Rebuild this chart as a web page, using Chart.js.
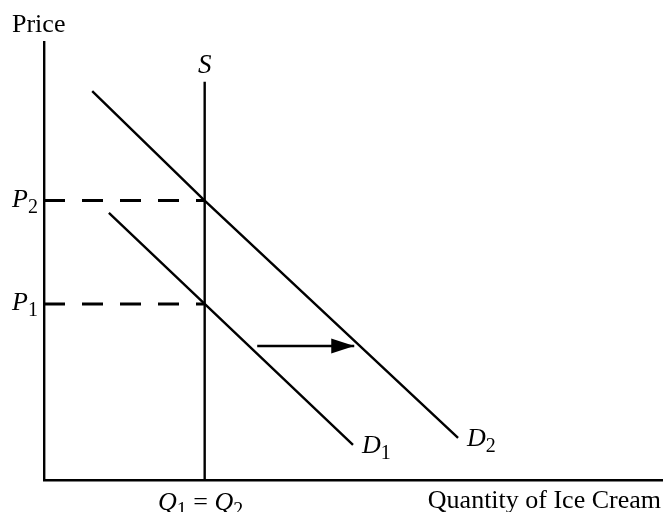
<!DOCTYPE html>
<html>
<head>
<meta charset="utf-8">
<script src="https://cdn.jsdelivr.net/npm/chart.js@4/dist/chart.umd.min.js"></script>
<style>
  html, body { margin: 0; padding: 0; background: #fff; }
</style>
</head>
<body>
<canvas id="chart" width="665" height="512"></canvas>
<script>
// Data (quantity 0-10 on x, price 0-10 on y)
const xTitle = 'Quantity of Ice Cream';
const yTitle = 'Price';
const supplyLabel = 'S';
const priceLabels = ['P1', 'P2'];
const quantityLabel = 'Q1 = Q2';
const demandLabels = ['D1', 'D2'];

const quantityEq = 2.6;          // Q1 = Q2, supply is vertical here
const supplyTop = 9.09;
const priceLevels = [4.02, 6.38]; // P1, P2
const demand1 = [{ x: 1.05, y: 6.10 }, { x: 2.6, y: 4.02 }, { x: 5.0, y: 0.80 }];
const demand2 = [{ x: 0.78, y: 8.88 }, { x: 2.6, y: 6.38 }, { x: 6.70, y: 0.96 }];
const shiftArrow = [{ x: 3.45, y: 3.06 }, { x: 5.02, y: 3.06 }];

const serif = '"Liberation Serif", "Times New Roman", serif';

function lineSet(data, dashed) {
    return {
        data: data,
        showLine: true,
        borderColor: '#000',
        borderWidth: dashed ? 3 : 2.4,
        borderDash: dashed ? [21, 17] : [],
        pointRadius: 0,
        fill: false,
        clip: false
    };
}

// split "P1" style labels into italic letters and subscript digits
function splitLabel(text) {
    const parts = [];
    for (const ch of text) {
        let kind = 'plain';
        if (/[0-9]/.test(ch)) kind = 'sub';
        else if (/[A-Za-z]/.test(ch)) kind = 'ital';
        const last = parts[parts.length - 1];
        if (last && last.kind === kind) last.text += ch;
        else parts.push({ kind: kind, text: ch });
    }
    return parts;
}

function drawLabel(ctx, text, x, y, align, size) {
    const parts = splitLabel(text);
    const subSize = Math.round(size * 0.75);
    let total = 0;
    parts.forEach(p => {
        if (p.kind === 'sub') p.font = subSize + 'px ' + serif;
        else if (p.kind === 'ital') p.font = 'italic ' + size + 'px ' + serif;
        else p.font = size + 'px ' + serif;
        ctx.font = p.font;
        p.w = ctx.measureText(p.text).width;
        total += p.w;
    });
    let cx = x;
    if (align === 'center') cx = x - total / 2;
    if (align === 'right') cx = x - total;
    ctx.textAlign = 'left';
    ctx.textBaseline = 'alphabetic';
    parts.forEach(p => {
        ctx.font = p.font;
        ctx.fillText(p.text, cx, p.kind === 'sub' ? y + 6 : y);
        cx += p.w;
    });
}

const annotations = {
    id: 'annotations',
    afterDatasetsDraw(chart) {
        const ctx = chart.ctx;
        const xs = chart.scales.x;
        const ys = chart.scales.y;
        const area = chart.chartArea;
        ctx.save();
        ctx.fillStyle = '#000';

        // arrow head at the end of the shift arrow
        const tip = shiftArrow[shiftArrow.length - 1];
        const tx = xs.getPixelForValue(tip.x);
        const ty = ys.getPixelForValue(tip.y);
        ctx.beginPath();
        ctx.moveTo(tx, ty);
        ctx.lineTo(tx - 23, ty - 7.5);
        ctx.lineTo(tx - 23, ty + 7.5);
        ctx.closePath();
        ctx.fill();

        // axis titles
        ctx.font = '26px ' + serif;
        ctx.textAlign = 'left';
        ctx.textBaseline = 'alphabetic';
        ctx.fillText(yTitle, area.left - 32, area.top - 10);
        ctx.textAlign = 'right';
        ctx.fillText(xTitle, area.right - 1, area.bottom + 28);

        // supply label
        drawLabel(ctx, supplyLabel, xs.getPixelForValue(quantityEq), ys.getPixelForValue(supplyTop) - 9, 'center', 27);

        // price labels on the y axis
        priceLevels.forEach((p, i) => {
            drawLabel(ctx, priceLabels[i], area.left - 32, ys.getPixelForValue(p) + 6, 'left', 26);
        });

        // quantity label under the x axis
        drawLabel(ctx, quantityLabel, xs.getPixelForValue(quantityEq) - 4, area.bottom + 30, 'center', 26);

        // demand curve labels
        [demand1, demand2].forEach((d, i) => {
            const end = d[d.length - 1];
            drawLabel(ctx, demandLabels[i], xs.getPixelForValue(end.x) + 9, ys.getPixelForValue(end.y) + 8, 'left', 26);
        });
        ctx.restore();
    }
};

const axisOpts = {
    type: 'linear',
    min: 0,
    max: 10,
    grid: { display: false, drawTicks: false },
    ticks: { display: false },
    border: { display: true, color: '#000', width: 2.4 }
};

new Chart(document.getElementById('chart'), {
    type: 'scatter',
    data: {
        datasets: [
            lineSet([{ x: quantityEq, y: 0 }, { x: quantityEq, y: supplyTop }], false),
            lineSet([{ x: 0, y: priceLevels[0] }, { x: quantityEq, y: priceLevels[0] }], true),
            lineSet([{ x: 0, y: priceLevels[1] }, { x: quantityEq, y: priceLevels[1] }], true),
            lineSet(demand1, false),
            lineSet(demand2, false),
            lineSet(shiftArrow, false)
        ]
    },
    options: {
        responsive: false,
        animation: false,
        layout: { padding: { left: 44, right: 3, top: 42, bottom: 32 } },
        plugins: {
            legend: { display: false },
            tooltip: { enabled: false }
        },
        scales: {
            x: axisOpts,
            y: axisOpts
        }
    },
    plugins: [annotations]
});
</script>
</body>
</html>
